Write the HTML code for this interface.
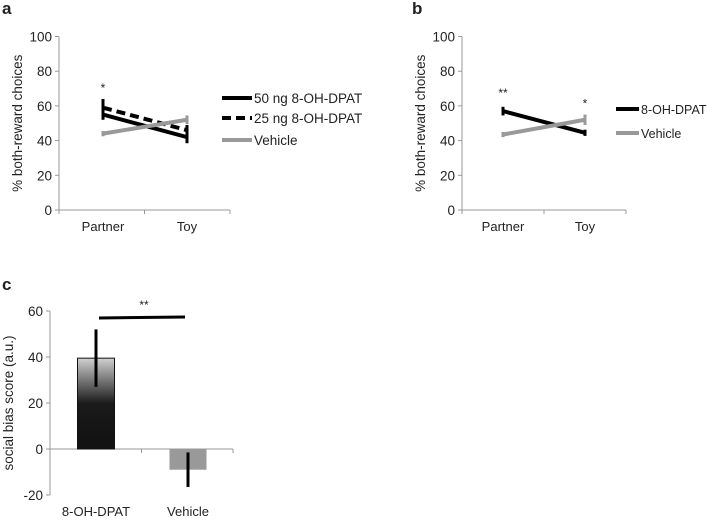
<!DOCTYPE html>
<html><head><meta charset="utf-8"><style>
body{margin:0;background:#fff;font-family:"Liberation Sans",Arial,sans-serif}
svg text{font-family:"Liberation Sans",Arial,sans-serif;fill:#222}
</style></head><body>
<svg id="s" width="707" height="518" viewBox="0 0 707 518">
<defs><linearGradient id="g" x1="0" y1="0" x2="0" y2="1">
<stop offset="0" stop-color="#cfcfcf"/><stop offset="0.5" stop-color="#1a1a1a"/><stop offset="1" stop-color="#111"/></linearGradient></defs>
</svg>
<script>
const NS='http://www.w3.org/2000/svg';
const svg=document.getElementById('s');
function el(t,a,txt,p){const e=document.createElementNS(NS,t);for(const k in a)e.setAttribute(k,a[k]);if(txt!=null)e.textContent=txt;(p||svg).appendChild(e);return e;}
// Panel a data
const catsA=['Partner','Toy'];
const a50=[55,42], a50Err=[3,3.5];
const a25=[59,46], a25Err=[5,3];
const aVeh=[44,52], aVehErr=[1.5,2.5];
// Panel b data
const b8=[57,44.5], b8Err=[2.5,1.8];
const bVeh=[43.5,52], bVehErr=[1.5,3];
const yTicks=[0,20,40,60,80,100];
// Panel c data
const catsC=['8-OH-DPAT','Vehicle'];
const cVals=[39.5,-9], cErr=[12.5,7.5];
const cTicks=[-20,0,20,40,60];

function linePanel(px,pRight,xc,series,labels,legend,name){
  const y=v=>210-v*1.735, x=i=>xc[i];
  const g=el('g',{});  
  el('line',{x1:px,y1:y(100),x2:px,y2:210,stroke:'#999','stroke-width':1},null,g);
  el('line',{x1:px,y1:210,x2:pRight,y2:210,stroke:'#999','stroke-width':1},null,g);
  yTicks.forEach(t=>{el('line',{x1:px-4,y1:y(t),x2:px,y2:y(t),stroke:'#999'},null,g);
    const tx=el('text',{x:px-7,y:y(t)+5,'text-anchor':'end','font-size':13.5},t,g);
    });
  [px,(px+pRight)/2,pRight].forEach(t=>el('line',{x1:t,y1:210,x2:t,y2:214,stroke:'#999'},null,g));
  catsA.forEach((c,i)=>{const tx=el('text',{x:x(i),y:231,'text-anchor':'middle','font-size':13},c,g);
    });
  const at=el('text',{transform:`translate(${px-37},${y(50)}) rotate(-90)`,'text-anchor':'middle','font-size':13.5},'% both-reward choices',g);
  
  series.forEach(s=>{
    const l=el('line',{x1:x(0),y1:y(s.v[0]),x2:x(1),y2:y(s.v[1]),stroke:s.c,'stroke-width':4,'stroke-dasharray':s.d||'none'},null,g);
    
    s.v.forEach((v,i)=>el('line',{x1:x(i),y1:y(v-s.e[i]),x2:x(i),y2:y(v+s.e[i]),stroke:s.c,'stroke-width':3},null,g));
  });
  labels.forEach(L=>el('text',{x:x(L.i),y:y(L.v),'text-anchor':'middle','font-size':12},L.t,g));
  series.forEach((s,k)=>{const ly=legend.y[k];
    const lg=el('g',{},null,g);
    el('line',{x1:legend.x,y1:ly,x2:legend.x+legend.w,y2:ly,stroke:s.c,'stroke-width':4,'stroke-dasharray':s.d||'none'},null,lg);
    el('text',{x:legend.x+legend.w+2,y:ly+5,'font-size':legend.fs},s.n,lg);});
}
el('text',{x:2,y:14,'font-size':17,'font-weight':'bold'},'a');
linePanel(59,230,[103,187],[
 {v:a50,e:a50Err,c:'#000',n:'50 ng 8-OH-DPAT'},
 {v:a25,e:a25Err,c:'#000',d:'9 5',n:'25 ng 8-OH-DPAT'},
 {v:aVeh,e:aVehErr,c:'#999',n:'Vehicle'}],
 [{i:0,v:68,t:'*'}],{x:222,w:30,y:[98,118,140],fs:13.5},'panel-a');
el('text',{x:412,y:14,'font-size':17,'font-weight':'bold'},'b');
linePanel(462,626,[503,585],[
 {v:b8,e:b8Err,c:'#000',n:'8-OH-DPAT'},
 {v:bVeh,e:bVehErr,c:'#999',n:'Vehicle'}],
 [{i:0,v:65,t:'**'},{i:1,v:59,t:'*'}],{x:616,w:23,y:[109,133],fs:12.5},'panel-b');
// Panel c
el('text',{x:2,y:290,'font-size':17,'font-weight':'bold'},'c');
(function(){
 const y=v=>449-v*2.3, px=50, pr=233, bx=[96,188], bw=37;
 const g=el('g',{});
 el('line',{x1:px,y1:y(60),x2:px,y2:y(-20),stroke:'#999'},null,g);
 el('line',{x1:px,y1:y(0),x2:pr,y2:y(0),stroke:'#999'},null,g);
 [px,(px+pr)/2,pr].forEach(t=>el('line',{x1:t,y1:y(0),x2:t,y2:y(0)+4,stroke:'#999'},null,g));
 cTicks.forEach(t=>{el('line',{x1:px-4,y1:y(t),x2:px,y2:y(t),stroke:'#999'},null,g);
  el('text',{x:px-7,y:y(t)+5,'text-anchor':'end','font-size':13.5},t,g);});
 catsC.forEach((c,i)=>el('text',{x:bx[i],y:516,'text-anchor':'middle','font-size':13},c,g));
 el('text',{transform:`translate(13,${y(20)}) rotate(-90)`,'text-anchor':'middle','font-size':13.5},'social bias score (a.u.)',g);
 cVals.forEach((v,i)=>{
  const r=el('rect',{x:bx[i]-bw/2,y:Math.min(y(v),y(0)),width:bw,height:Math.abs(y(v)-y(0)),fill:i==0?'url(#g)':'#999',stroke:i==0?'#111':'none','stroke-width':1},null,g);
  
  el('line',{x1:bx[i],y1:y(v+cErr[i]),x2:bx[i],y2:y(v-cErr[i]),stroke:'#000','stroke-width':3},null,g);
 });
 el('line',{x1:99,y1:318,x2:185,y2:317,stroke:'#000','stroke-width':3},null,g);
 el('text',{x:144,y:309,'text-anchor':'middle','font-size':12},'**',g);
})();
</script>
</body></html>
